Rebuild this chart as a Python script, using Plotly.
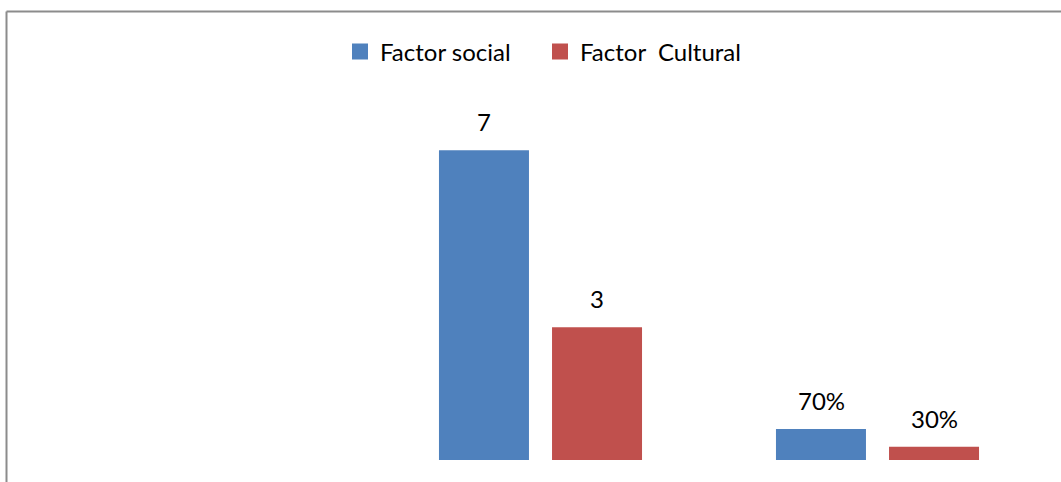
import plotly.graph_objects as go

categories = ["Cantidad", "Número", "Porcentaje"]
social_values = [None, 7, 0.7]
cultural_values = [None, 3, 0.3]
social_labels = ["", "7", "70%"]
cultural_labels = ["", "3", "30%"]
series_names = ["Factor social", "Factor  Cultural"]

BLUE = "#4F81BD"
RED = "#C0504D"
FONT = "Lato"
FS = 24

W, H = 1061, 482
ML, MR, MT, MB = 35, 15, 106, 22
pw = W - ML - MR
ph = H - MT - MB

def px_x(x):
    return (x - ML) / pw

def px_y(y):
    return (H - MB - y) / ph

fig = go.Figure()
fig.add_trace(go.Bar(
    x=categories, y=social_values, name=series_names[0],
    marker=dict(color=BLUE, line=dict(width=0)), showlegend=False,
))
fig.add_trace(go.Bar(
    x=categories, y=cultural_values, name=series_names[1],
    marker=dict(color=RED, line=dict(width=0)), showlegend=False,
))
# legend entries with larger square keys
for name, col in zip(series_names, [BLUE, RED]):
    fig.add_trace(go.Scatter(
        x=[None], y=[None], mode="markers", name=name,
        marker=dict(symbol="square", size=16, color=col),
    ))

# data labels
group_offset = 56.5
annotations = []
for vals, labs, off in [(social_values, social_labels, -group_offset),
                        (cultural_values, cultural_labels, group_offset)]:
    for c, v, t in zip(categories, vals, labs):
        if v is None:
            continue
        annotations.append(dict(
            x=c, y=v, xref="x", yref="y", text=t, showarrow=False,
            xshift=off, yshift=12, yanchor="bottom",
            font=dict(family=FONT, size=FS, color="black"),
        ))

fig.update_layout(
    width=W, height=H,
    margin=dict(l=ML, r=MR, t=MT, b=MB),
    paper_bgcolor="white", plot_bgcolor="white",
    barmode="group", bargap=0.329, bargroupgap=0.204,
    font=dict(family=FONT, size=FS, color="black"),
    showlegend=True,
    legend=dict(
        orientation="h", x=px_x(540), xanchor="center",
        y=px_y(52), yanchor="middle",
        font=dict(family=FONT, size=FS, color="black"),
        bgcolor="rgba(0,0,0,0)", itemsizing="trace",
        entrywidth=155, entrywidthmode="pixels",
    ),
    xaxis=dict(showticklabels=False, showgrid=False, zeroline=False,
               showline=False, ticks="", range=[-0.5, 2.5]),
    yaxis=dict(showticklabels=False, showgrid=False, zeroline=False,
               showline=False, ticks="", range=[0, 8]),
    annotations=annotations,
    shapes=[
        dict(type="line", xref="paper", yref="paper",
             x0=px_x(6.5), x1=px_x(6.5), y0=px_y(490), y1=px_y(11.5),
             line=dict(color="#8C8C8C", width=2)),
        dict(type="line", xref="paper", yref="paper",
             x0=px_x(6.5), x1=px_x(1070), y0=px_y(11.5), y1=px_y(11.5),
             line=dict(color="#8C8C8C", width=2)),
    ],
)

fig.write_html("out.html", config={"displayModeBar": False},
               post_script="document.body.style.margin='0';")
